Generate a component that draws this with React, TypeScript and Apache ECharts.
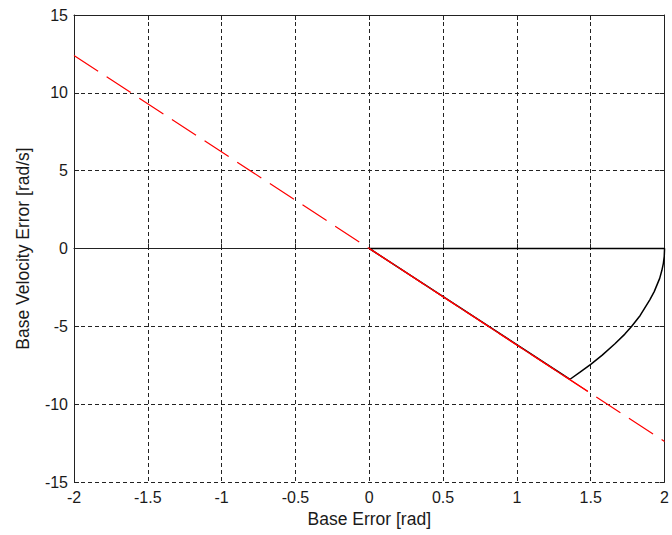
import React, { useEffect, useRef } from "react";
import * as echarts from "echarts";

// Sliding surface (red dashed line)
const surfaceX = [-2, 2];
const surfaceY = [12.4, -12.4];
// Portion of the surface drawn solid
const surfaceSolidX = [0, 1.48];
const surfaceSolidY = [0, -9.18];
// Black phase trajectory
const trajX = [0, 2, 1.998, 1.992, 1.982, 1.967, 1.93, 1.9, 1.835, 1.775, 1.731, 1.664, 1.578, 1.5, 1.43, 1.36, 0];
const trajY = [0, 0, -0.5, -0.95, -1.4, -1.92, -2.77, -3.3, -4.3, -5.03, -5.5, -6.12, -6.85, -7.44, -7.93, -8.4, 0];

const xTicks = { min: -2, max: 2, interval: 0.5 };
const yTicks = { min: -15, max: 15, interval: 5 };

const zip = (xs: number[], ys: number[]) => xs.map((x, i) => [x, ys[i]]);

export default function App() {
  const ref = useRef<HTMLDivElement>(null);
  useEffect(() => {
    document.body.style.margin = "0";
    const chart = echarts.init(ref.current!, null, { renderer: "svg" });
    const axisColor = "#222";
    const font = "Liberation Sans, Arial, sans-serif";
    chart.setOption({
      animation: false,
      backgroundColor: "#fff",
      grid: { left: 74, right: 5, top: 15, bottom: 53 },
      xAxis: [
        {
          type: "value",
          min: xTicks.min,
          max: xTicks.max,
          interval: xTicks.interval,
          position: "bottom",
          name: "Base Error [rad]",
          nameLocation: "middle",
          nameGap: 27,
          nameTextStyle: { fontSize: 17.5, color: "#1a1a1a", fontFamily: font },
          axisLine: { show: true, lineStyle: { color: axisColor, width: 1 } },
          axisTick: { show: true, inside: true, length: 5, lineStyle: { color: axisColor } },
          axisLabel: { fontSize: 16, color: "#1a1a1a", fontFamily: font, margin: 7 },
          splitLine: { show: true, lineStyle: { color: axisColor, type: [4, 3], width: 1 } },
        },
        {
          type: "value",
          min: xTicks.min,
          max: xTicks.max,
          interval: xTicks.interval,
          position: "top",
          axisLine: { show: true, onZero: false, lineStyle: { color: axisColor, width: 1 } },
          axisTick: { show: true, inside: true, length: 5, lineStyle: { color: axisColor } },
          axisLabel: { show: false },
          splitLine: { show: false },
        },
      ],
      yAxis: [
        {
          type: "value",
          min: yTicks.min,
          max: yTicks.max,
          interval: yTicks.interval,
          position: "left",
          name: "Base Velocity Error [rad/s]",
          nameLocation: "middle",
          nameGap: 42,
          nameTextStyle: { fontSize: 17.5, color: "#1a1a1a", fontFamily: font },
          axisLine: { show: true, onZero: false, lineStyle: { color: axisColor, width: 1 } },
          axisTick: { show: true, inside: true, length: 5, lineStyle: { color: axisColor } },
          axisLabel: { fontSize: 16, color: "#1a1a1a", fontFamily: font, margin: 6 },
          splitLine: { show: true, lineStyle: { color: axisColor, type: [4, 3], width: 1 } },
        },
        {
          type: "value",
          min: yTicks.min,
          max: yTicks.max,
          interval: yTicks.interval,
          position: "right",
          axisLine: { show: true, onZero: false, lineStyle: { color: axisColor, width: 1 } },
          axisTick: { show: true, inside: true, length: 5, lineStyle: { color: axisColor } },
          axisLabel: { show: false },
          splitLine: { show: false },
        },
      ],
      series: [
        {
          type: "line",
          data: zip(trajX, trajY),
          showSymbol: false,
          symbol: "none",
          lineStyle: { color: "#000", width: 1.5 },
          z: 3,
        },
        {
          type: "line",
          data: zip(surfaceX, surfaceY),
          showSymbol: false,
          symbol: "none",
          lineStyle: { color: "#ff0000", width: 1.2, type: [28.8, 10.2] },
          z: 4,
        },
        {
          type: "line",
          data: zip(surfaceSolidX, surfaceSolidY),
          showSymbol: false,
          symbol: "none",
          lineStyle: { color: "#ff0000", width: 1.2 },
          z: 4,
        },
      ],
    });
    return () => chart.dispose();
  }, []);
  return <div ref={ref} style={{ width: 672, height: 535 }} />;
}
